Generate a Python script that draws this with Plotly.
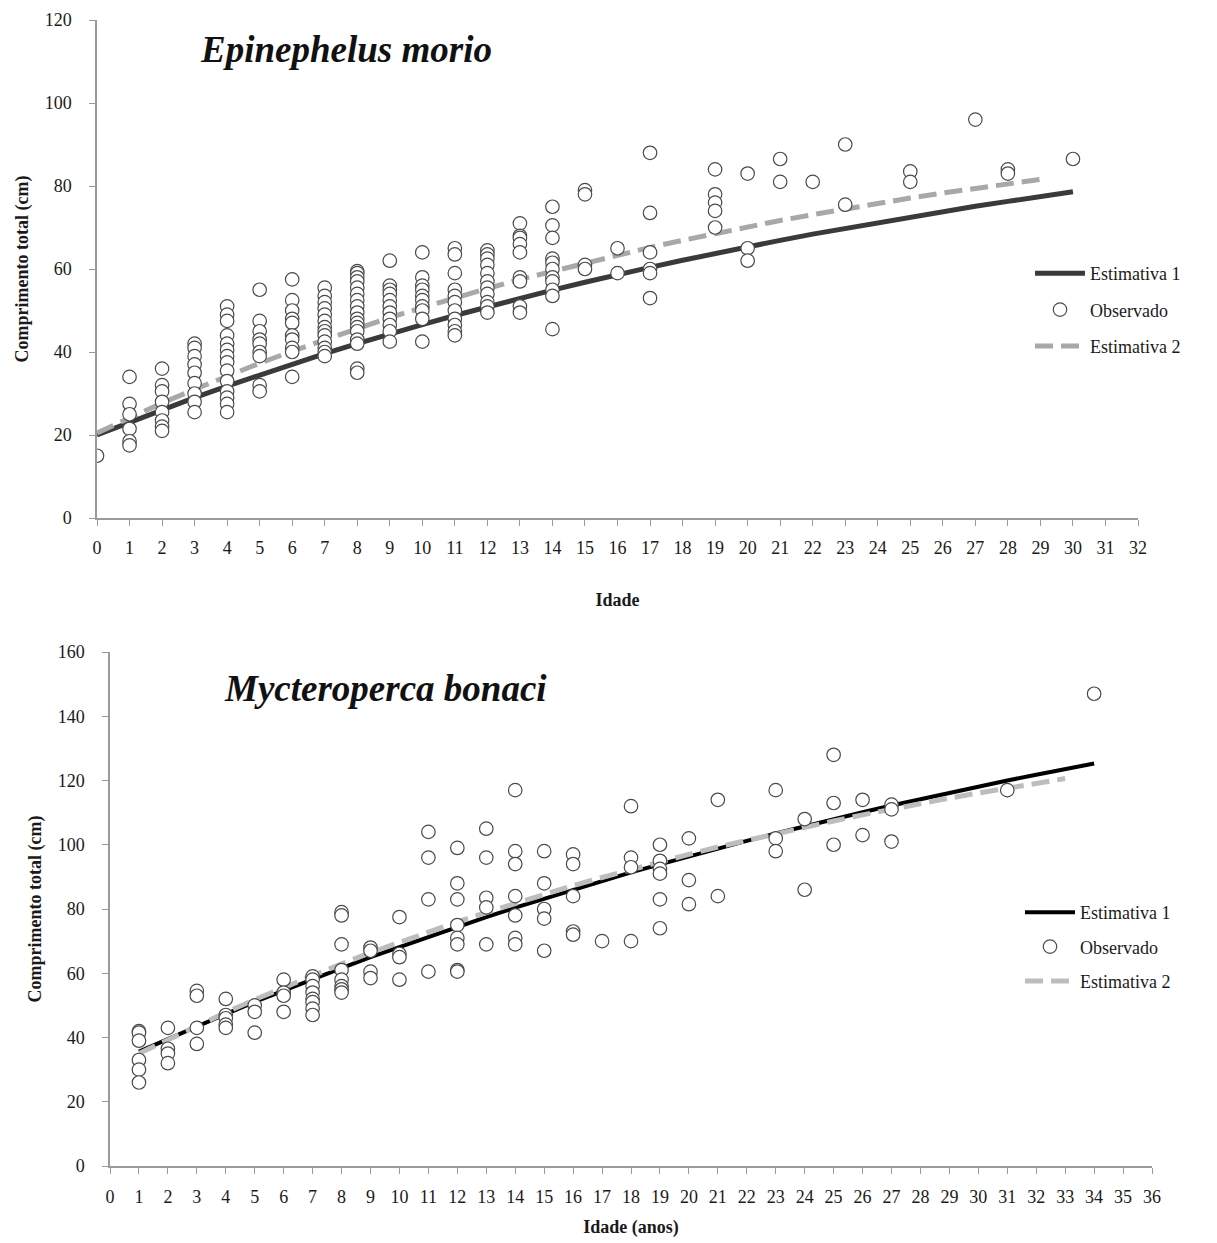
import plotly.graph_objects as go

# ---------------- Epinephelus morio ----------------
morio_obs_ages = [0, 1, 2, 3, 4, 5, 6, 7, 8, 9, 10, 11, 12, 13, 14, 15, 16, 17,
                  19, 20, 21, 22, 23, 25, 27, 28, 30]
morio_obs_lengths = [
    [15],
    [34, 27.5, 25, 21.5, 18.5, 17.5],
    [36, 32, 30.5, 28, 25.5, 23.5, 22, 21],
    [42, 41, 39, 37, 35, 32.5, 30, 28, 25.5],
    [51, 49, 47.5, 44, 42, 40.5, 39, 37.5, 35.5, 33, 30.5, 29, 27.5, 25.5],
    [55, 47.5, 45, 43, 42, 40, 39, 32, 30.5],
    [57.5, 52.5, 50, 48, 47, 44, 43, 41, 40, 34],
    [55.5, 53.5, 52, 50.5, 49, 47.5, 46, 45, 44, 42.5, 41, 40, 39],
    [59.5, 59, 58, 57, 55.5, 54, 52.5, 51, 49.5, 48, 47, 46, 45, 43, 42, 36, 35],
    [62, 56, 55, 54, 52.5, 51, 49.5, 48, 46.5, 45, 42.5],
    [64, 58, 56, 55, 53.5, 52.5, 51, 50, 48, 42.5],
    [65, 63.5, 59, 55, 53.5, 52, 50, 48, 46.5, 45, 44],
    [64.5, 63.5, 62.5, 61, 59, 57, 55.5, 54, 52, 51, 49.5],
    [71, 68, 67.5, 66, 64, 58, 57, 51, 49.5],
    [75, 70.5, 67.5, 62.5, 61.5, 60, 58, 57, 55, 53.5, 45.5],
    [79, 78, 61, 60],
    [65, 59],
    [88, 73.5, 64, 60, 59, 53],
    [84, 78, 76, 74, 70],
    [83, 65, 62],
    [86.5, 81],
    [81],
    [90, 75.5],
    [83.5, 81],
    [96],
    [84, 83],
    [86.5],
]
morio_est1_ages = list(range(0, 31))
morio_est1 = [20.0, 23.1, 26.1, 29.0, 31.8, 34.5, 37.1, 39.6, 42.0, 44.4, 46.6,
              48.8, 50.9, 53.0, 54.9, 56.8, 58.7, 60.4, 62.1, 63.8, 65.4, 66.9,
              68.4, 69.8, 71.2, 72.6, 73.9, 75.1, 76.3, 77.5, 78.6]
morio_est2_ages = list(range(0, 30))
morio_est2 = [20.5, 24.2, 27.7, 31.0, 34.2, 37.3, 40.2, 43.0, 45.7, 48.3, 50.7,
              53.1, 55.3, 57.5, 59.5, 61.5, 63.4, 65.2, 66.9, 68.6, 70.1, 71.7,
              73.1, 74.5, 75.8, 77.1, 78.3, 79.4, 80.5, 81.6]

# ---------------- Mycteroperca bonaci ----------------
bonaci_obs_ages = [1, 2, 3, 4, 5, 6, 7, 8, 9, 10, 11, 12, 13, 14, 15, 16, 17,
                   18, 19, 20, 21, 23, 24, 25, 26, 27, 31, 34]
bonaci_obs_lengths = [
    [42, 41.5, 39, 33, 30, 26],
    [43, 36.5, 35, 32],
    [54.5, 53, 43, 38],
    [52, 47, 46, 44, 43],
    [50, 48, 41.5],
    [58, 54, 53, 48],
    [59, 58, 56, 54, 52, 51, 49, 47],
    [79, 78, 69, 61, 58, 56, 55, 54],
    [68, 67, 60.5, 58.5],
    [77.5, 66, 65, 58],
    [104, 96, 83, 60.5],
    [99, 88, 83, 75, 71, 69, 61, 60.5],
    [105, 96, 83.5, 80.5, 69],
    [117, 98, 94, 84, 78, 71, 69],
    [98, 88, 80, 77, 67],
    [97, 94, 84, 73, 72],
    [70],
    [112, 96, 93, 70],
    [100, 95, 92.5, 91, 83, 74],
    [102, 89, 81.5],
    [114, 84],
    [117, 102, 98],
    [108, 86],
    [128, 113, 100],
    [114, 103],
    [112.5, 111, 101],
    [117],
    [147],
]
bonaci_est1_ages = list(range(1, 35))
bonaci_est1 = [35.6, 39.6, 43.5, 47.3, 51.1, 54.7, 58.2, 61.6, 65.0, 68.2, 71.4,
               74.5, 77.5, 80.4, 83.2, 86.0, 88.7, 91.4, 93.9, 96.4, 98.9, 101.2,
               103.5, 105.8, 108.0, 110.1, 112.2, 114.2, 116.2, 118.1, 120.0,
               121.8, 123.6, 125.3]
bonaci_est2_ages = list(range(1, 34))
bonaci_est2 = [35.0, 39.4, 43.7, 47.8, 51.8, 55.6, 59.3, 62.9, 66.4, 69.7, 72.9,
               76.0, 78.9, 81.8, 84.6, 87.3, 89.8, 92.3, 94.7, 97.0, 99.3, 101.4,
               103.5, 105.5, 107.4, 109.3, 111.1, 112.8, 114.5, 116.1, 117.7,
               119.2, 120.6]


def flatten(ages, groups):
    xs, ys = [], []
    for a, g in zip(ages, groups):
        for v in g:
            xs.append(a)
            ys.append(v)
    return xs, ys


SERIF = "Liberation Serif"
W, H = 1217, 1243

fig = go.Figure()

# top panel
mx, my = flatten(morio_obs_ages, morio_obs_lengths)
fig.add_trace(go.Scatter(
    x=morio_est1_ages, y=morio_est1, mode="lines", name="Estimativa 1",
    line=dict(color="#3a3a3a", width=5), xaxis="x", yaxis="y",
    legend="legend", legendrank=1))
fig.add_trace(go.Scatter(
    x=morio_est2_ages, y=morio_est2, mode="lines", name="Estimativa 2",
    line=dict(color="#a8a8a8", width=5, dash="18px,8px"), xaxis="x", yaxis="y",
    legend="legend", legendrank=3))
fig.add_trace(go.Scatter(
    x=mx, y=my, mode="markers", name="Observado",
    marker=dict(symbol="circle", size=13.5, color="white",
                line=dict(color="#4a4a4a", width=1.2)),
    xaxis="x", yaxis="y", legend="legend", legendrank=2))

# bottom panel
bx, by = flatten(bonaci_obs_ages, bonaci_obs_lengths)
fig.add_trace(go.Scatter(
    x=bonaci_est1_ages, y=bonaci_est1, mode="lines", name="Estimativa 1",
    line=dict(color="#000000", width=4), xaxis="x2", yaxis="y2",
    legend="legend2", legendrank=1))
fig.add_trace(go.Scatter(
    x=bonaci_est2_ages, y=bonaci_est2, mode="lines", name="Estimativa 2",
    line=dict(color="#bdbdbd", width=5, dash="18px,8px"), xaxis="x2", yaxis="y2",
    legend="legend2", legendrank=3))
fig.add_trace(go.Scatter(
    x=bx, y=by, mode="markers", name="Observado",
    marker=dict(symbol="circle", size=13.5, color="white",
                line=dict(color="#4a4a4a", width=1.2)),
    xaxis="x2", yaxis="y2", legend="legend2", legendrank=2))

tick_font = dict(family=SERIF, size=18, color="#1a1a1a")
title_font = dict(family=SERIF, size=18, color="#1a1a1a", weight="bold")
axis_common = dict(showline=True, linecolor="#9a9a9a", linewidth=1.5,
                   ticks="outside", ticklen=6, tickcolor="#9a9a9a",
                   showgrid=False, zeroline=False, tickfont=tick_font,
                   automargin=False, fixedrange=True)

fig.update_layout(
    width=W, height=H,
    margin=dict(l=0, r=0, t=0, b=0),
    paper_bgcolor="white", plot_bgcolor="white",
    template="none",
    xaxis=dict(domain=[97 / W, 1138 / W], anchor="y", range=[0, 32],
               tickmode="linear", tick0=0, dtick=1, ticklabelstandoff=7,
               title=dict(text="Idade", font=title_font, standoff=36),
               **axis_common),
    yaxis=dict(domain=[1 - 518 / H, 1 - 20 / H], anchor="x", range=[0, 120],
               tickmode="linear", tick0=0, dtick=20, ticklabelstandoff=14,
               title=dict(text="Comprimento total (cm)", font=title_font,
                          standoff=11),
               **axis_common),
    xaxis2=dict(domain=[110 / W, 1152 / W], anchor="y2", range=[0, 36],
                tickmode="linear", tick0=0, dtick=1, ticklabelstandoff=8,
                title=dict(text="Idade (anos)", font=title_font, standoff=14),
                **axis_common),
    yaxis2=dict(domain=[1 - 1166 / H, 1 - 652 / H], anchor="x2", range=[0, 160],
                tickmode="linear", tick0=0, dtick=20, ticklabelstandoff=14,
                title=dict(text="Comprimento total (cm)", font=title_font,
                           standoff=11),
                **axis_common),
    legend=dict(x=1030 / W, y=1 - 255 / H, xanchor="left", yanchor="top",
                font=dict(family=SERIF, size=18, color="#1a1a1a"),
                bgcolor="rgba(0,0,0,0)", itemwidth=50, tracegroupgap=10,
                traceorder="grouped"),
    legend2=dict(x=1020 / W, y=1 - 894 / H, xanchor="left", yanchor="top",
                 font=dict(family=SERIF, size=18, color="#1a1a1a"),
                 bgcolor="rgba(0,0,0,0)", itemwidth=50, tracegroupgap=8,
                 traceorder="grouped"),
    showlegend=True,
    annotations=[
        dict(text="<b><i>Epinephelus morio</i></b>", xref="paper", yref="paper",
             x=198 / W, y=1 - 50 / H, xanchor="left", yanchor="middle",
             showarrow=False, font=dict(family=SERIF, size=37, color="#111")),
        dict(text="<b><i>Mycteroperca bonaci</i></b>", xref="paper", yref="paper",
             x=222 / W, y=1 - 688 / H, xanchor="left", yanchor="middle",
             showarrow=False, font=dict(family=SERIF, size=37, color="#111")),
    ],
)

# one legend group per trace so the group gap spaces the entries
for i, tr in enumerate(fig.data):
    tr.legendgroup = f"g{i}"

fig.write_html("out.html")
